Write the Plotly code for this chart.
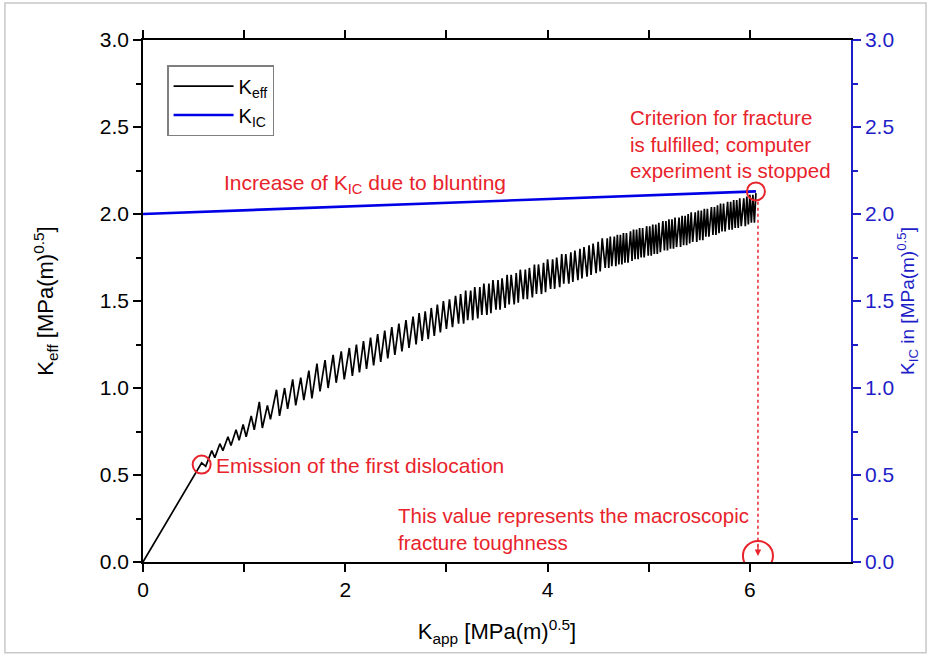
import plotly.graph_objects as go

# K_eff vs K_app: the curve starts at the origin, then alternates between a
# peak (just before a dislocation is emitted) and a trough (just after it).
peak_kapp = [
    0.58, 0.68, 0.76, 0.84, 0.92, 0.99, 1.07, 1.15, 1.23, 1.32,
    1.40, 1.48, 1.56, 1.64, 1.72, 1.80, 1.88, 1.96, 2.04, 2.11,
    2.18, 2.25, 2.32, 2.39, 2.46, 2.53, 2.60, 2.67, 2.73, 2.79,
    2.85, 2.91, 2.97, 3.03, 3.09,
    3.14, 3.19, 3.24, 3.28, 3.33, 3.37, 3.42, 3.46, 3.51, 3.55,
    3.60, 3.64, 3.69, 3.73, 3.78, 3.82, 3.87, 3.91, 3.96, 4.00,
    4.05, 4.09, 4.14, 4.18, 4.23, 4.27, 4.32, 4.36, 4.41, 4.45,
    4.50, 4.54,
    4.59, 4.62, 4.66, 4.69, 4.72, 4.75, 4.78, 4.82, 4.85, 4.88,
    4.91, 4.94, 4.98, 5.01, 5.04, 5.07, 5.10, 5.14, 5.17, 5.20,
    5.23, 5.26, 5.30, 5.33, 5.36, 5.39, 5.42, 5.46, 5.49, 5.52,
    5.55, 5.58, 5.62, 5.65, 5.68, 5.71, 5.74, 5.78, 5.81, 5.84,
    5.87, 5.90, 5.94, 5.97, 6.00, 6.03, 6.06,
]
peak_keff = [
    0.57, 0.64, 0.68, 0.72, 0.76, 0.79, 0.84, 0.92, 0.90, 0.99,
    1.00, 1.05, 1.06, 1.10, 1.14, 1.16, 1.19, 1.21, 1.23, 1.25,
    1.27, 1.29, 1.31, 1.33, 1.35, 1.37, 1.39, 1.41, 1.43, 1.44,
    1.46, 1.48, 1.50, 1.51, 1.53,
    1.54, 1.56, 1.56, 1.58, 1.58, 1.60, 1.60, 1.62, 1.62, 1.63,
    1.65, 1.65, 1.66, 1.68, 1.68, 1.69, 1.71, 1.71, 1.72, 1.74,
    1.74, 1.75, 1.77, 1.77, 1.78, 1.79, 1.80, 1.81, 1.82, 1.83,
    1.84, 1.86,
    1.86, 1.87, 1.87, 1.88, 1.88, 1.89, 1.89, 1.90, 1.91, 1.91,
    1.92, 1.92, 1.93, 1.93, 1.94, 1.94, 1.95, 1.96, 1.96, 1.97,
    1.97, 1.98, 1.98, 1.99, 1.99, 2.00, 2.01, 2.01, 2.02, 2.02,
    2.03, 2.03, 2.04, 2.04, 2.05, 2.06, 2.06, 2.07, 2.07, 2.08,
    2.08, 2.09, 2.09, 2.10, 2.11, 2.11, 2.12,
]
trough_kapp = [
    0.62, 0.71, 0.79, 0.87, 0.95, 1.02, 1.10, 1.18, 1.26, 1.35,
    1.43, 1.51, 1.59, 1.67, 1.75, 1.83, 1.91, 1.99, 2.07, 2.14,
    2.21, 2.28, 2.35, 2.42, 2.49, 2.56, 2.63, 2.70, 2.76, 2.82,
    2.88, 2.94, 3.00, 3.06, 3.12,
    3.17, 3.21, 3.26, 3.31, 3.35, 3.40, 3.44, 3.49, 3.53, 3.58,
    3.62, 3.67, 3.71, 3.76, 3.80, 3.85, 3.89, 3.94, 3.98, 4.03,
    4.07, 4.12, 4.16, 4.21, 4.25, 4.30, 4.34, 4.39, 4.43, 4.48,
    4.52, 4.57,
    4.605, 4.635, 4.675, 4.705, 4.735, 4.765, 4.795, 4.835, 4.865, 4.895,
    4.925, 4.955, 4.995, 5.025, 5.055, 5.085, 5.115, 5.155, 5.185, 5.215,
    5.245, 5.275, 5.315, 5.345, 5.375, 5.405, 5.435, 5.475, 5.505, 5.535,
    5.565, 5.595, 5.635, 5.665, 5.695, 5.725, 5.755, 5.795, 5.825, 5.855,
    5.885, 5.915, 5.955, 5.985, 6.015, 6.045,
]
trough_keff = [
    0.55, 0.60, 0.64, 0.67, 0.70, 0.72, 0.76, 0.77, 0.82, 0.84,
    0.88, 0.90, 0.93, 0.94, 0.98, 1.00, 1.03, 1.05, 1.07, 1.09,
    1.11, 1.13, 1.15, 1.17, 1.19, 1.21, 1.23, 1.25, 1.27, 1.28,
    1.30, 1.32, 1.34, 1.35, 1.37,
    1.37, 1.39, 1.39, 1.40, 1.42, 1.42, 1.43, 1.45, 1.45, 1.46,
    1.48, 1.48, 1.49, 1.51, 1.51, 1.52, 1.54, 1.54, 1.55, 1.57,
    1.57, 1.58, 1.60, 1.60, 1.61, 1.62, 1.63, 1.64, 1.65, 1.66,
    1.67, 1.69,
    1.69, 1.70, 1.70, 1.71, 1.71, 1.72, 1.72, 1.73, 1.74, 1.74,
    1.75, 1.75, 1.76, 1.76, 1.77, 1.77, 1.78, 1.79, 1.79, 1.80,
    1.80, 1.81, 1.81, 1.82, 1.82, 1.83, 1.84, 1.84, 1.85, 1.85,
    1.87, 1.87, 1.88, 1.88, 1.89, 1.90, 1.90, 1.91, 1.91, 1.92,
    1.92, 1.93, 1.93, 1.94, 1.95, 1.95,
]

# K_IC rises linearly from its initial value because of crack-tip blunting
kic_kapp = [0.0, 6.06]
kic_value = [2.00, 2.13]

# Marked events
emission_kapp, emission_keff = 0.58, 0.56
fracture_kapp, fracture_kic = 6.06, 2.13
toughness_kapp, toughness_level = 6.08, 0.035

x_ticks = [0, 2, 4, 6]
x_minor = [1, 3, 5]

kapp = [0.0]
keff = [0.0]
for i in range(len(peak_kapp)):
    kapp.append(peak_kapp[i])
    keff.append(peak_keff[i])
    if i < len(trough_kapp):
        kapp.append(trough_kapp[i])
        keff.append(trough_keff[i])

FONT = "Liberation Sans, Arial, sans-serif"
RED = "#e8232b"
BLUE = "#1e1ec8"
LINE_BLUE = "#0000e6"

fig = go.Figure()
fig.add_trace(go.Scatter(
    x=kapp, y=keff, mode="lines", name="K<sub>eff</sub>",
    line=dict(color="black", width=1.7),
))
fig.add_trace(go.Scatter(
    x=kic_kapp, y=kic_value, mode="lines", name="K<sub>IC</sub>",
    line=dict(color=LINE_BLUE, width=2.6), yaxis="y2",
))

axis_common = dict(
    showgrid=False, zeroline=False, showline=True, linewidth=1.5,
    ticks="outside", ticklen=8, tickwidth=1.5,
)

fig.update_layout(
    width=930, height=664,
    margin=dict(l=143, r=79, t=40, b=102),
    paper_bgcolor="white", plot_bgcolor="white",
    font=dict(family=FONT, size=21, color="black"),
    showlegend=True,
    legend=dict(
        x=0.034, y=0.952, xanchor="left", yanchor="top",
        bordercolor="#7f7f7f", borderwidth=1.5, bgcolor="white",
        font=dict(family=FONT, size=20, color="black"),
        itemwidth=60, tracegroupgap=2,
    ),
    xaxis=dict(
        **axis_common, range=[0, 7], tickvals=x_ticks,
        linecolor="black", tickcolor="black", mirror="allticks",
        tickfont=dict(size=21, color="black"),
        minor=dict(tickvals=x_minor, ticks="outside", ticklen=5,
                   tickwidth=1.5, tickcolor="black"),
        title=dict(text="K<sub>app</sub> [MPa(m)<sup>0.5</sup>]",
                   font=dict(size=22), standoff=24),
    ),
    yaxis=dict(
        **axis_common, range=[0, 3], dtick=0.5, tickformat=".1f",
        linecolor="black", tickcolor="black",
        tickfont=dict(size=21, color="black"),
        minor=dict(dtick=0.25, ticks="outside", ticklen=5,
                   tickwidth=1.5, tickcolor="black"),
        title=dict(text="K<sub>eff</sub> [MPa(m)<sup>0.5</sup>]",
                   font=dict(size=22), standoff=40),
    ),
    yaxis2=dict(
        **axis_common, range=[0, 3], dtick=0.5, tickformat=".1f",
        overlaying="y", side="right", anchor="x",
        linecolor=BLUE, tickcolor=BLUE,
        tickfont=dict(size=21, color=BLUE),
        minor=dict(dtick=0.25, ticks="outside", ticklen=5,
                   tickwidth=1.5, tickcolor=BLUE),
        title=dict(text="K<sub>IC</sub> in [MPa(m)<sup>0.5</sup>]",
                   font=dict(size=19, color=BLUE), standoff=8),
    ),
)

# Red markers around the notable points
def ring(xc, yc, r):
    fig.add_shape(
        type="circle", xref="x", yref="y", xsizemode="pixel", ysizemode="pixel",
        xanchor=xc, yanchor=yc, x0=-r, x1=r, y0=-r, y1=r,
        line=dict(color=RED, width=2),
    )

ring(emission_kapp, emission_keff, 9)
ring(fracture_kapp, fracture_kic, 9)
ring(toughness_kapp, toughness_level, 15)

# Projection of the fracture point onto the K_app axis
fig.add_shape(
    type="line", xref="x", yref="y",
    x0=toughness_kapp, x1=toughness_kapp, y0=fracture_kic - 0.06, y1=toughness_level + 0.03,
    line=dict(color=RED, width=1.5, dash="dot"),
)
fig.add_annotation(
    x=toughness_kapp, y=toughness_level, xref="x", yref="y",
    ax=0, ay=-12, showarrow=True, arrowhead=2, arrowsize=1, arrowwidth=1.3,
    arrowcolor=RED, standoff=0, text="",
)

note_font = dict(family=FONT, size=20.5, color=RED)
fig.add_annotation(
    x=0.78, y=2.17, xref="x", yref="y", xanchor="left", yanchor="middle",
    text="Increase of K<sub>IC</sub> due to blunting", showarrow=False,
    font=dict(family=FONT, size=21, color=RED),
)
fig.add_annotation(
    x=4.80, y=2.405, xref="x", yref="y", xanchor="left", yanchor="middle", align="left",
    text="Criterion for fracture<br>is fulfilled; computer<br>experiment is stopped",
    showarrow=False, font=note_font,
)
fig.add_annotation(
    x=0.70, y=0.556, xref="x", yref="y", xanchor="left", yanchor="middle",
    text="Emission of the first dislocation", showarrow=False,
    font=dict(family=FONT, size=21, color=RED),
)
fig.add_annotation(
    x=2.50, y=0.19, xref="x", yref="y", xanchor="left", yanchor="middle", align="left",
    text="This value represents the macroscopic<br>fracture toughness",
    showarrow=False, font=note_font,
)

# Light frame around the whole figure
fig.add_shape(
    type="rect", xref="paper", yref="paper",
    x0=-0.195, x1=1.106, y0=-0.174, y1=1.071,
    line=dict(color="#c8c8c8", width=1.5), layer="below",
)

fig.write_html("out.html")
